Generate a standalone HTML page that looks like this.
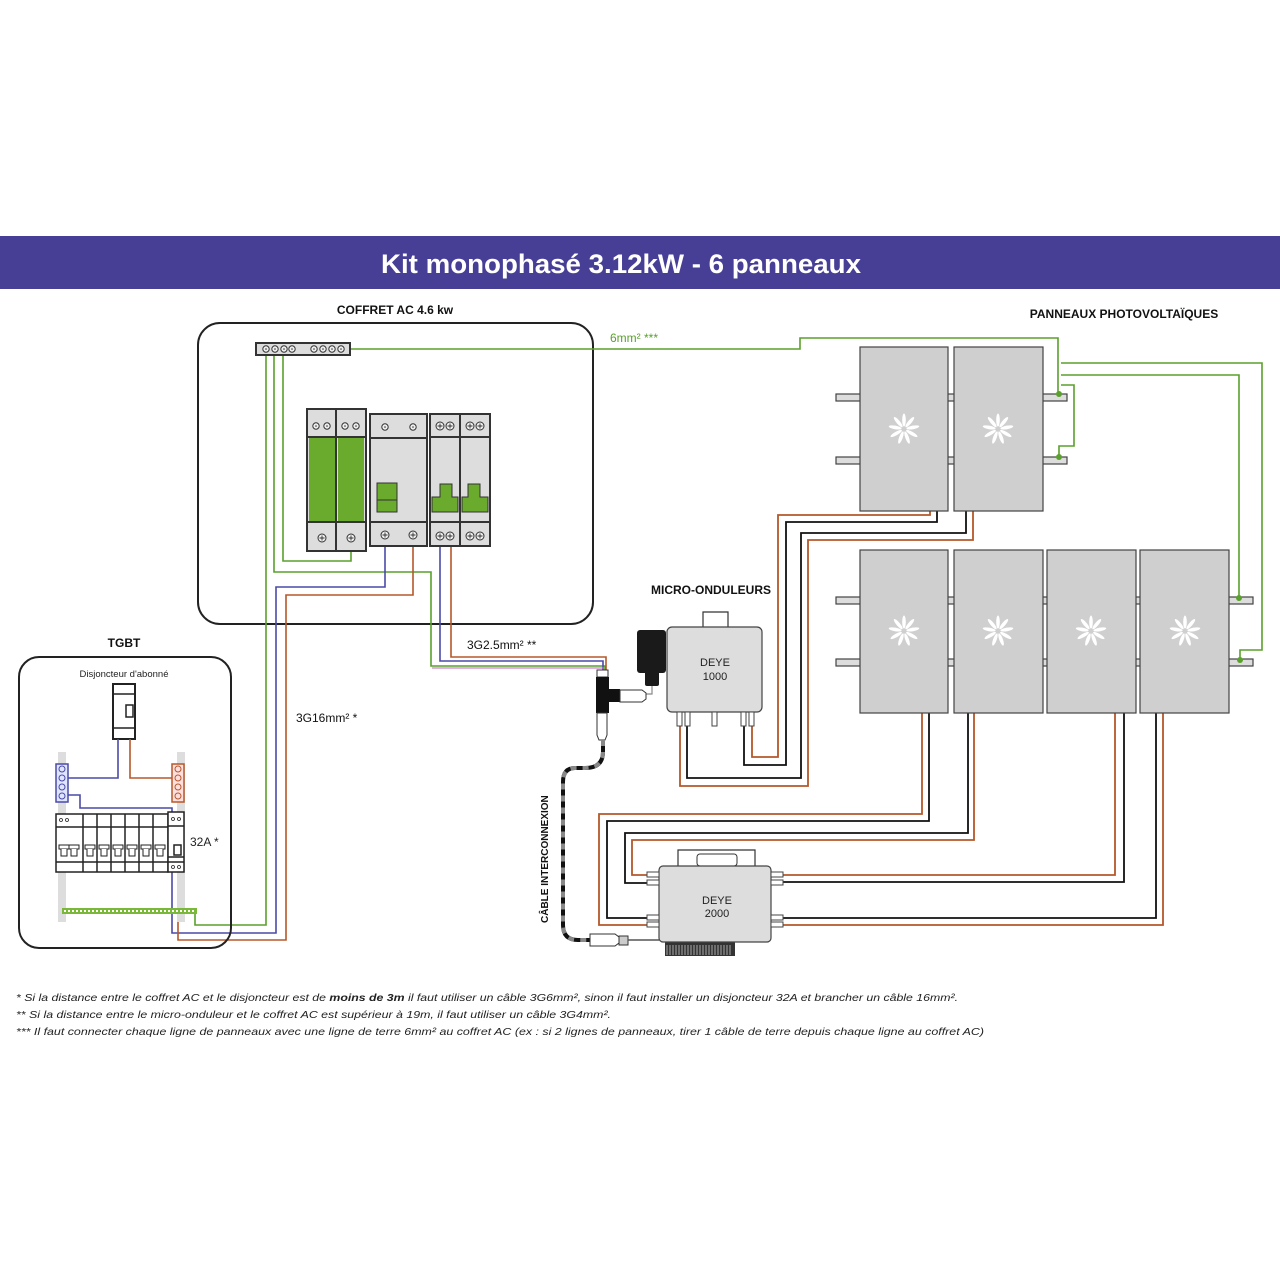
<!DOCTYPE html>
<html><head><meta charset="utf-8"><style>
html,body{margin:0;padding:0;background:#fff}
svg{display:block}
text{font-family:"Liberation Sans",sans-serif}
</style></head><body>
<svg width="1280" height="1280" viewBox="0 0 1280 1280" xmlns="http://www.w3.org/2000/svg">
<defs>
<g id="fl" fill="#fff">
<ellipse cx="0" cy="-9" rx="1.8" ry="6.5"/>
<ellipse cx="0" cy="-9" rx="1.8" ry="6.5" transform="rotate(40)"/>
<ellipse cx="0" cy="-9" rx="1.8" ry="6.5" transform="rotate(80)"/>
<ellipse cx="0" cy="-9" rx="1.8" ry="6.5" transform="rotate(120)"/>
<ellipse cx="0" cy="-9" rx="1.8" ry="6.5" transform="rotate(160)"/>
<ellipse cx="0" cy="-9" rx="1.8" ry="6.5" transform="rotate(200)"/>
<ellipse cx="0" cy="-9" rx="1.8" ry="6.5" transform="rotate(240)"/>
<ellipse cx="0" cy="-9" rx="1.8" ry="6.5" transform="rotate(280)"/>
<ellipse cx="0" cy="-9" rx="1.8" ry="6.5" transform="rotate(320)"/>
</g>
<g id="sc"><circle r="4" fill="#eee" stroke="#333" stroke-width="1"/><path d="M-2.5 0H2.5M0 -2.5V2.5" stroke="#333" stroke-width="0.9"/></g>
<g id="ss"><circle r="3.2" fill="#eee" stroke="#333" stroke-width="1"/><circle r="0.8" fill="#333"/></g>
</defs>

<rect x="0" y="236" width="1280" height="53" fill="#473f96"/>
<text x="381" y="273" font-size="27" font-weight="bold" fill="#fff" textLength="480" lengthAdjust="spacingAndGlyphs">Kit monophasé 3.12kW - 6 panneaux</text>

<text x="395" y="314" font-size="12" font-weight="bold" text-anchor="middle" fill="#111">COFFRET AC 4.6 kw</text>
<text x="1124" y="318" font-size="12" font-weight="bold" text-anchor="middle" fill="#111">PANNEAUX PHOTOVOLTAÏQUES</text>
<text x="711" y="594" font-size="12" font-weight="bold" text-anchor="middle" fill="#111">MICRO-ONDULEURS</text>
<text x="124" y="647" font-size="12" font-weight="bold" text-anchor="middle" fill="#111">TGBT</text>
<text x="610" y="342" font-size="12" fill="#5aa02c">6mm² ***</text>
<text x="467" y="649" font-size="12" fill="#111">3G2.5mm² **</text>
<text x="296" y="722" font-size="12" fill="#111">3G16mm² *</text>

<rect x="198" y="323" width="395" height="301" rx="22" fill="none" stroke="#222" stroke-width="2"/>

<g fill="none" stroke="#5aa02c" stroke-width="1.6">
<path d="M345 349H800V338H1058V394"/>
<path d="M1061 363H1262V650H1240V660"/>
<path d="M1061 375H1239V598"/>
<path d="M1061 385H1074V446H1059V457"/>
<path d="M266 352V925H195V912"/>
<path d="M274 352V572H431V666H605V672"/>
<path d="M283 352V561H351V551"/>
</g>
<g fill="none" stroke-width="1.6">
<path d="M385 546V587H276V933H172V871" stroke="#4a4aa8"/>
<path d="M413 546V595H286V940H178V871" stroke="#b5582a"/>
<path d="M440 546V661H603V672" stroke="#4a4aa8"/>
<path d="M451 546V657H606V672" stroke="#b5582a"/>
<path d="M432 668H604" stroke="#c060c0" stroke-width="1"/>
</g>

<rect x="256" y="343" width="94" height="12" fill="#ddd" stroke="#333" stroke-width="2"/>
<g>
<use href="#ss" x="266" y="349"/><use href="#ss" x="275" y="349"/><use href="#ss" x="284" y="349"/><use href="#ss" x="292" y="349"/>
<use href="#ss" x="314" y="349"/><use href="#ss" x="323" y="349"/><use href="#ss" x="332" y="349"/><use href="#ss" x="341" y="349"/>
</g>

<g stroke="#333" stroke-width="2">
<rect x="307" y="409" width="59" height="142" fill="#ddd"/>
<line x1="336" y1="409" x2="336" y2="551"/>
<rect x="309" y="437" width="26" height="84" fill="#6aaa2c" stroke="none"/>
<rect x="338" y="437" width="26" height="84" fill="#6aaa2c" stroke="none"/>
<line x1="307" y1="437" x2="366" y2="437"/><line x1="307" y1="522" x2="366" y2="522"/>
</g>
<use href="#ss" x="316" y="426"/><use href="#ss" x="327" y="426"/><use href="#ss" x="345" y="426"/><use href="#ss" x="356" y="426"/>
<use href="#sc" x="322" y="538"/><use href="#sc" x="351" y="538"/>
<g stroke="#333" stroke-width="2">
<rect x="370" y="414" width="57" height="132" fill="#ddd"/>
<line x1="370" y1="438" x2="427" y2="438"/><line x1="370" y1="522" x2="427" y2="522"/>
</g>
<rect x="377" y="483" width="20" height="29" fill="#6aaa2c" stroke="#333" stroke-width="1"/>
<line x1="377" y1="500" x2="397" y2="500" stroke="#333"/>
<use href="#ss" x="385" y="427"/><use href="#ss" x="413" y="427"/>
<use href="#sc" x="385" y="535"/><use href="#sc" x="413" y="535"/>
<g stroke="#333" stroke-width="2">
<rect x="430" y="414" width="60" height="132" fill="#ddd"/>
<line x1="460" y1="414" x2="460" y2="546"/>
<line x1="430" y1="437" x2="490" y2="437"/><line x1="430" y1="522" x2="490" y2="522"/>
</g>
<path d="M432 512V497h8v-13h12v13h6v15z" fill="#6aaa2c" stroke="#333" stroke-width="1"/>
<path d="M462 512V497h6v-13h12v13h8v15z" fill="#6aaa2c" stroke="#333" stroke-width="1"/>
<use href="#sc" x="440" y="426"/><use href="#sc" x="450" y="426"/><use href="#sc" x="470" y="426"/><use href="#sc" x="480" y="426"/>
<use href="#sc" x="440" y="536"/><use href="#sc" x="450" y="536"/><use href="#sc" x="470" y="536"/><use href="#sc" x="480" y="536"/>

<rect x="19" y="657" width="212" height="291" rx="20" fill="none" stroke="#222" stroke-width="2"/>
<text x="124" y="677" font-size="9.5" text-anchor="middle" fill="#222">Disjoncteur d'abonné</text>
<rect x="58" y="752" width="8" height="170" fill="#ddd"/>
<rect x="177" y="752" width="8" height="170" fill="#ddd"/>
<rect x="113" y="684" width="22" height="55" fill="#fff" stroke="#222" stroke-width="2"/>
<line x1="113" y1="694" x2="135" y2="694" stroke="#222" stroke-width="1.5"/>
<line x1="113" y1="728" x2="135" y2="728" stroke="#222" stroke-width="1.5"/>
<rect x="126" y="705" width="7" height="12" fill="#fff" stroke="#222" stroke-width="1.5"/>
<g fill="none" stroke-width="1.6">
<path d="M118 739V778H68" stroke="#4a4aa8"/>
<path d="M130 739V778H172" stroke="#b5582a"/>
<path d="M67 795H80V808H172V814" stroke="#4a4aa8"/>
</g>
<rect x="56" y="764" width="12" height="38" fill="#dfe4ff" stroke="#4a4aa8" stroke-width="1.5"/>
<rect x="172" y="764" width="12" height="38" fill="#ffdede" stroke="#b5582a" stroke-width="1.5"/>
<g fill="none" stroke-width="1">
<circle cx="62" cy="769" r="3" stroke="#4a4aa8"/><circle cx="62" cy="778" r="3" stroke="#4a4aa8"/><circle cx="62" cy="787" r="3" stroke="#4a4aa8"/><circle cx="62" cy="796" r="3" stroke="#4a4aa8"/>
<circle cx="178" cy="769" r="3" stroke="#b5582a"/><circle cx="178" cy="778" r="3" stroke="#b5582a"/><circle cx="178" cy="787" r="3" stroke="#b5582a"/><circle cx="178" cy="796" r="3" stroke="#b5582a"/>
</g>
<g stroke="#222" stroke-width="1.5" fill="#fff">
<rect x="56" y="814" width="112" height="58"/>
<path d="M83 814V872M97 814V872M111 814V872M125 814V872M139 814V872M153 814V872M56 827H168M56 862H168" fill="none"/>
<rect x="168" y="812" width="16" height="60"/>
<path d="M168 826H184M168 857H184M168 862H184" fill="none"/>
<rect x="174" y="845" width="7" height="10"/>
</g>
<g fill="#fff" stroke="#222" stroke-width="1">
<rect x="59" y="845" width="10" height="4"/><path d="M61 849v7h6v-7"/>
<rect x="85" y="845" width="10" height="4"/><path d="M87 849v7h6v-7"/>
<rect x="99" y="845" width="10" height="4"/><path d="M101 849v7h6v-7"/>
<rect x="113" y="845" width="10" height="4"/><path d="M115 849v7h6v-7"/>
<rect x="127" y="845" width="10" height="4"/><path d="M129 849v7h6v-7"/>
<rect x="141" y="845" width="10" height="4"/><path d="M143 849v7h6v-7"/>
<rect x="155" y="845" width="10" height="4"/><path d="M157 849v7h6v-7"/>
<rect x="69" y="845" width="10" height="4"/><path d="M71 849v7h6v-7"/>
</g>
<g fill="none" stroke="#222" stroke-width="0.8"><circle cx="61" cy="820" r="1.5"/><circle cx="67" cy="820" r="1.5"/><circle cx="173" cy="819" r="1.5"/><circle cx="179" cy="819" r="1.5"/><circle cx="173" cy="867" r="1.5"/><circle cx="179" cy="867" r="1.5"/></g>
<text x="190" y="846" font-size="12" fill="#222">32A *</text>
<rect x="62" y="908" width="135" height="6" fill="#7ab83a"/>
<path d="M64 911H195" stroke="#fff" stroke-width="2" stroke-dasharray="2 2"/>

<g fill="none" stroke-width="1.8">
<path d="M680 712V786H808V540H973V511" stroke="#b5582a"/>
<path d="M687 712V778H801V533H966V511" stroke="#111"/>
<path d="M744 712V765H786V522H937V511" stroke="#111"/>
<path d="M752 712V757H778V515H930V511" stroke="#b5582a"/>
<path d="M922 713V814H599V925H659" stroke="#b5582a"/>
<path d="M929 713V821H607V918H659" stroke="#111"/>
<path d="M968 713V833H625V883H659" stroke="#111"/>
<path d="M974 713V840H632V875H659" stroke="#b5582a"/>
<path d="M1115 713V875H771" stroke="#b5582a"/>
<path d="M1124 713V882H771" stroke="#111"/>
<path d="M1156 713V918H771" stroke="#111"/>
<path d="M1163 713V925H771" stroke="#b5582a"/>
</g>

<g fill="#ddd" stroke="#444" stroke-width="1.2">
<rect x="836" y="394" width="231" height="7"/><rect x="836" y="457" width="231" height="7"/>
<rect x="836" y="597" width="417" height="7"/><rect x="836" y="659" width="417" height="7"/>
</g>
<g fill="#cfcfcf" stroke="#444" stroke-width="1.2">
<rect x="860" y="347" width="88" height="164"/><rect x="954" y="347" width="89" height="164"/>
<rect x="860" y="550" width="88" height="163"/><rect x="954" y="550" width="89" height="163"/>
<rect x="1047" y="550" width="89" height="163"/><rect x="1140" y="550" width="89" height="163"/>
</g>
<use href="#fl" x="904" y="429"/><use href="#fl" x="998" y="429"/>
<use href="#fl" x="904" y="631"/><use href="#fl" x="998" y="631"/><use href="#fl" x="1091" y="631"/><use href="#fl" x="1185" y="631"/>
<g fill="#5aa02c"><circle cx="1059" cy="394" r="3"/><circle cx="1059" cy="457" r="3"/><circle cx="1239" cy="598" r="3"/><circle cx="1240" cy="660" r="3"/></g>

<path d="M703 627v-15h25v15" fill="#fff" stroke="#333" stroke-width="1.2"/>
<rect x="637" y="630" width="29" height="43" rx="3" fill="#1a1a1a"/>
<rect x="645" y="670" width="14" height="16" rx="2" fill="#1a1a1a"/>
<path d="M652 686v8h-7" fill="none" stroke="#888" stroke-width="1.2"/>
<rect x="667" y="627" width="95" height="85" rx="5" fill="#ddd" stroke="#444" stroke-width="1.2"/>
<g fill="#fff" stroke="#444" stroke-width="1"><rect x="677" y="712" width="5" height="14"/><rect x="685" y="712" width="5" height="14"/><rect x="712" y="712" width="5" height="14"/><rect x="741" y="712" width="5" height="14"/><rect x="749" y="712" width="5" height="14"/></g>
<text x="715" y="666" font-size="11" text-anchor="middle" fill="#222">DEYE</text>
<text x="715" y="680" font-size="11" text-anchor="middle" fill="#222">1000</text>

<rect x="597" y="670" width="11" height="7" fill="#fff" stroke="#333"/>
<rect x="596" y="677" width="13" height="36" fill="#111"/>
<rect x="609" y="689" width="11" height="13" fill="#111"/>
<path d="M620 690h22l4 3v6l-4 3h-22z" fill="#fff" stroke="#333"/>
<path d="M597 713h10v22l-2 5h-6l-2-5z" fill="#fff" stroke="#333"/>

<path d="M603 740V752Q603 768 585 768H575Q563 768 563 782V925Q563 940 578 940H590" fill="none" stroke="#111" stroke-width="4"/>
<path d="M603 740V752Q603 768 585 768H575Q563 768 563 782V925Q563 940 578 940H590" fill="none" stroke="#888" stroke-width="4" stroke-dasharray="6 6"/>
<path d="M590 934h25l4 3v6l-4 3h-25z" fill="#fff" stroke="#333"/>
<rect x="619" y="936" width="9" height="9" fill="#ccc" stroke="#333"/>
<line x1="628" y1="940" x2="659" y2="940" stroke="#555" stroke-width="1.5"/>
<text transform="translate(548 923) rotate(-90)" font-size="10" font-weight="bold" fill="#111">CÂBLE INTERCONNEXION</text>

<path d="M678 866v-16h77v16" fill="#fff" stroke="#333" stroke-width="1.2"/>
<rect x="697" y="854" width="40" height="12" rx="3" fill="#fff" stroke="#333"/>
<rect x="665" y="942" width="70" height="14" fill="#333"/>
<path d="M667 945V955M670 945V955M673 945V955M676 945V955M679 945V955M682 945V955M685 945V955M688 945V955M691 945V955M694 945V955M697 945V955M700 945V955M703 945V955M706 945V955M709 945V955M712 945V955M715 945V955M718 945V955M721 945V955M724 945V955M727 945V955M730 945V955" stroke="#aaa" stroke-width="1"/>
<rect x="659" y="866" width="112" height="76" rx="4" fill="#ddd" stroke="#444" stroke-width="1.2"/>
<g fill="#fff" stroke="#444" stroke-width="1"><rect x="647" y="872" width="12" height="5"/><rect x="647" y="880" width="12" height="5"/><rect x="647" y="915" width="12" height="5"/><rect x="647" y="922" width="12" height="5"/>
<rect x="771" y="872" width="12" height="5"/><rect x="771" y="880" width="12" height="5"/><rect x="771" y="915" width="12" height="5"/><rect x="771" y="922" width="12" height="5"/></g>
<text x="717" y="904" font-size="11" text-anchor="middle" fill="#222">DEYE</text>
<text x="717" y="917" font-size="11" text-anchor="middle" fill="#222">2000</text>

<g font-size="10.5" font-style="italic" fill="#222">
<text x="16" y="1001" textLength="942" lengthAdjust="spacingAndGlyphs">* Si la distance entre le coffret AC et le disjoncteur est de <tspan font-weight="bold">moins de 3m</tspan> il faut utiliser un câble 3G6mm², sinon il faut installer un disjoncteur 32A et brancher un câble 16mm².</text>
<text x="16" y="1018" textLength="595" lengthAdjust="spacingAndGlyphs">** Si la distance entre le micro-onduleur et le coffret AC est supérieur à 19m, il faut utiliser un câble 3G4mm².</text>
<text x="16" y="1035" textLength="968" lengthAdjust="spacingAndGlyphs">*** Il faut connecter chaque ligne de panneaux avec une ligne de terre 6mm² au coffret AC (ex : si 2 lignes de panneaux, tirer 1 câble de terre depuis chaque ligne au coffret AC)</text>
</g>
</svg>
</body></html>
